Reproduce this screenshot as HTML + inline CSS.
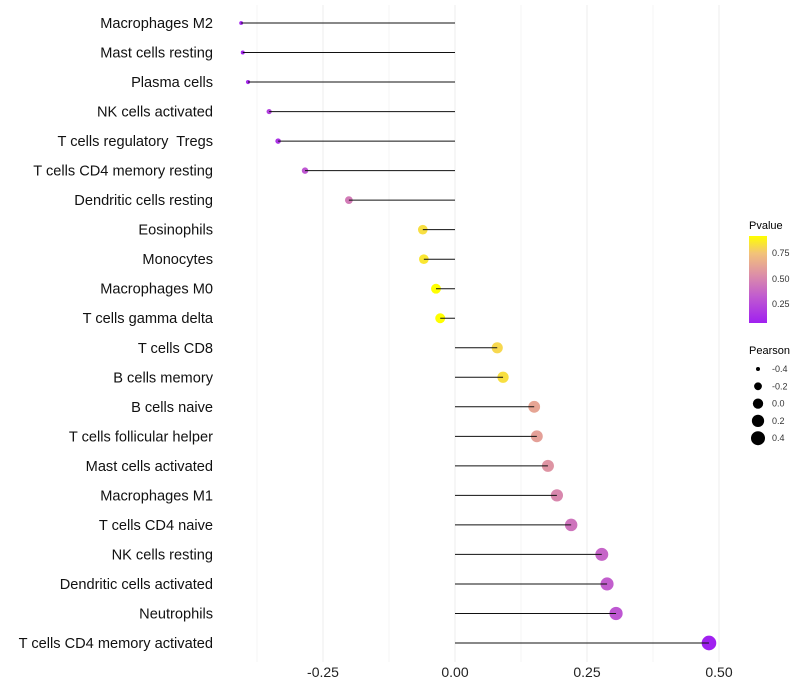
<!DOCTYPE html>
<html><head><meta charset="utf-8"><style>
body{margin:0;background:#fff;}
svg{display:block;font-family:"Liberation Sans",sans-serif;}
text{white-space:pre;}
</style></head><body>
<svg id="chart" width="800" height="700" viewBox="0 0 800 700">
<defs><linearGradient id="pg" x1="0" y1="1" x2="0" y2="0">
<stop offset="0" stop-color="#a020f0"/><stop offset="0.3" stop-color="#c05ad0"/><stop offset="0.55" stop-color="#dc8ea8"/><stop offset="0.8" stop-color="#f2c27a"/><stop offset="1" stop-color="#ffff00"/></linearGradient></defs>
<g id="grid"></g>
<g id="marks"></g>
<g id="labels"></g>
<g id="legend">
<text x="749" y="229" font-size="11">Pvalue</text>
<rect x="749" y="236" width="18" height="87" fill="url(#pg)"/>
<text x="772" y="256" font-size="9" fill="#333">0.75</text>
<text x="772" y="282" font-size="9" fill="#333">0.50</text>
<text x="772" y="307" font-size="9" fill="#333">0.25</text>
<text x="749" y="354" font-size="11">Pearson</text>
</g>
</svg>
<script>
const categories=["Macrophages M2","Mast cells resting","Plasma cells","NK cells activated","T cells regulatory  Tregs","T cells CD4 memory resting","Dendritic cells resting","Eosinophils","Monocytes","Macrophages M0","T cells gamma delta","T cells CD8","B cells memory","B cells naive","T cells follicular helper","Mast cells activated","Macrophages M1","T cells CD4 naive","NK cells resting","Dendritic cells activated","Neutrophils","T cells CD4 memory activated"];
const pearson=[-0.405,-0.402,-0.392,-0.352,-0.335,-0.284,-0.201,-0.061,-0.059,-0.036,-0.028,0.080,0.091,0.150,0.155,0.176,0.193,0.220,0.278,0.288,0.305,0.481];
const pvalue=[0.07,0.08,0.1,0.2,0.15,0.3,0.45,0.82,0.84,0.92,0.93,0.8,0.82,0.62,0.6,0.55,0.5,0.42,0.36,0.33,0.3,0.04];
const xTicks=[-0.25,0,0.25,0.5];
const xTickLabels=["-0.25","0.00","0.25","0.50"];
const sizeLegend=[-0.4,-0.2,0.0,0.2,0.4];
const NS="http://www.w3.org/2000/svg";
const x=v=>455+v*528;
const y=i=>23+i*(620/21);
const r=p=>Math.sqrt(Math.max(2.5,26.5+56.25*p));
function col(p){const st=[[0,[160,32,240]],[0.3,[192,90,208]],[0.55,[220,142,168]],[0.8,[242,194,122]],[1,[255,255,0]]];
 const t=Math.min(1,Math.max(0,(p-0.06)/0.85));
 for(let k=1;k<st.length;k++){if(t<=st[k][0]){const a=st[k-1],b=st[k],f=(t-a[0])/(b[0]-a[0]);return "rgb("+a[1].map((c,j)=>Math.round(c+(b[1][j]-c)*f)).join(",")+")";}}
 return "rgb(255,255,0)";}
function mk(tag,at,parent){const e=document.createElementNS(NS,tag);for(const k in at)e.setAttribute(k,at[k]);parent.appendChild(e);return e;}
const grid=document.getElementById('grid'),marks=document.getElementById('marks'),labels=document.getElementById('labels'),legend=document.getElementById('legend');
[-0.375,-0.125,0.125,0.375].forEach(v=>{const l=mk('line',{x1:x(v),x2:x(v),y1:5,y2:662,stroke:'#f4f4f4','stroke-width':1},grid);

});
xTicks.forEach((v,i)=>{const l=mk('line',{x1:x(v),x2:x(v),y1:5,y2:662,stroke:'#eeeeee','stroke-width':1},grid);


const t=mk('text',{x:x(v),y:677,'font-size':14,'text-anchor':'middle',fill:'#222'},grid);t.textContent=xTickLabels[i];

});
categories.forEach((c,i)=>{
const t=mk('text',{x:213,y:y(i)+5,'font-size':14.6,'text-anchor':'end',fill:'#111'},labels);t.textContent=c;


const d=mk('circle',{cx:x(pearson[i]),cy:y(i),r:r(pearson[i]),fill:col(pvalue[i])},marks);


const s=mk('line',{x1:x(0),x2:x(pearson[i]),y1:y(i),y2:y(i),stroke:'#111','stroke-width':1},marks);


});
sizeLegend.forEach((p,i)=>{const cy=369+i*17.3;
const c=mk('circle',{cx:758,cy:cy,r:r(p),fill:'#000'},legend);


const t=mk('text',{x:772,y:cy+3,'font-size':9,fill:'#333'},legend);t.textContent=p.toFixed(1);

});
</script>
</body></html>
